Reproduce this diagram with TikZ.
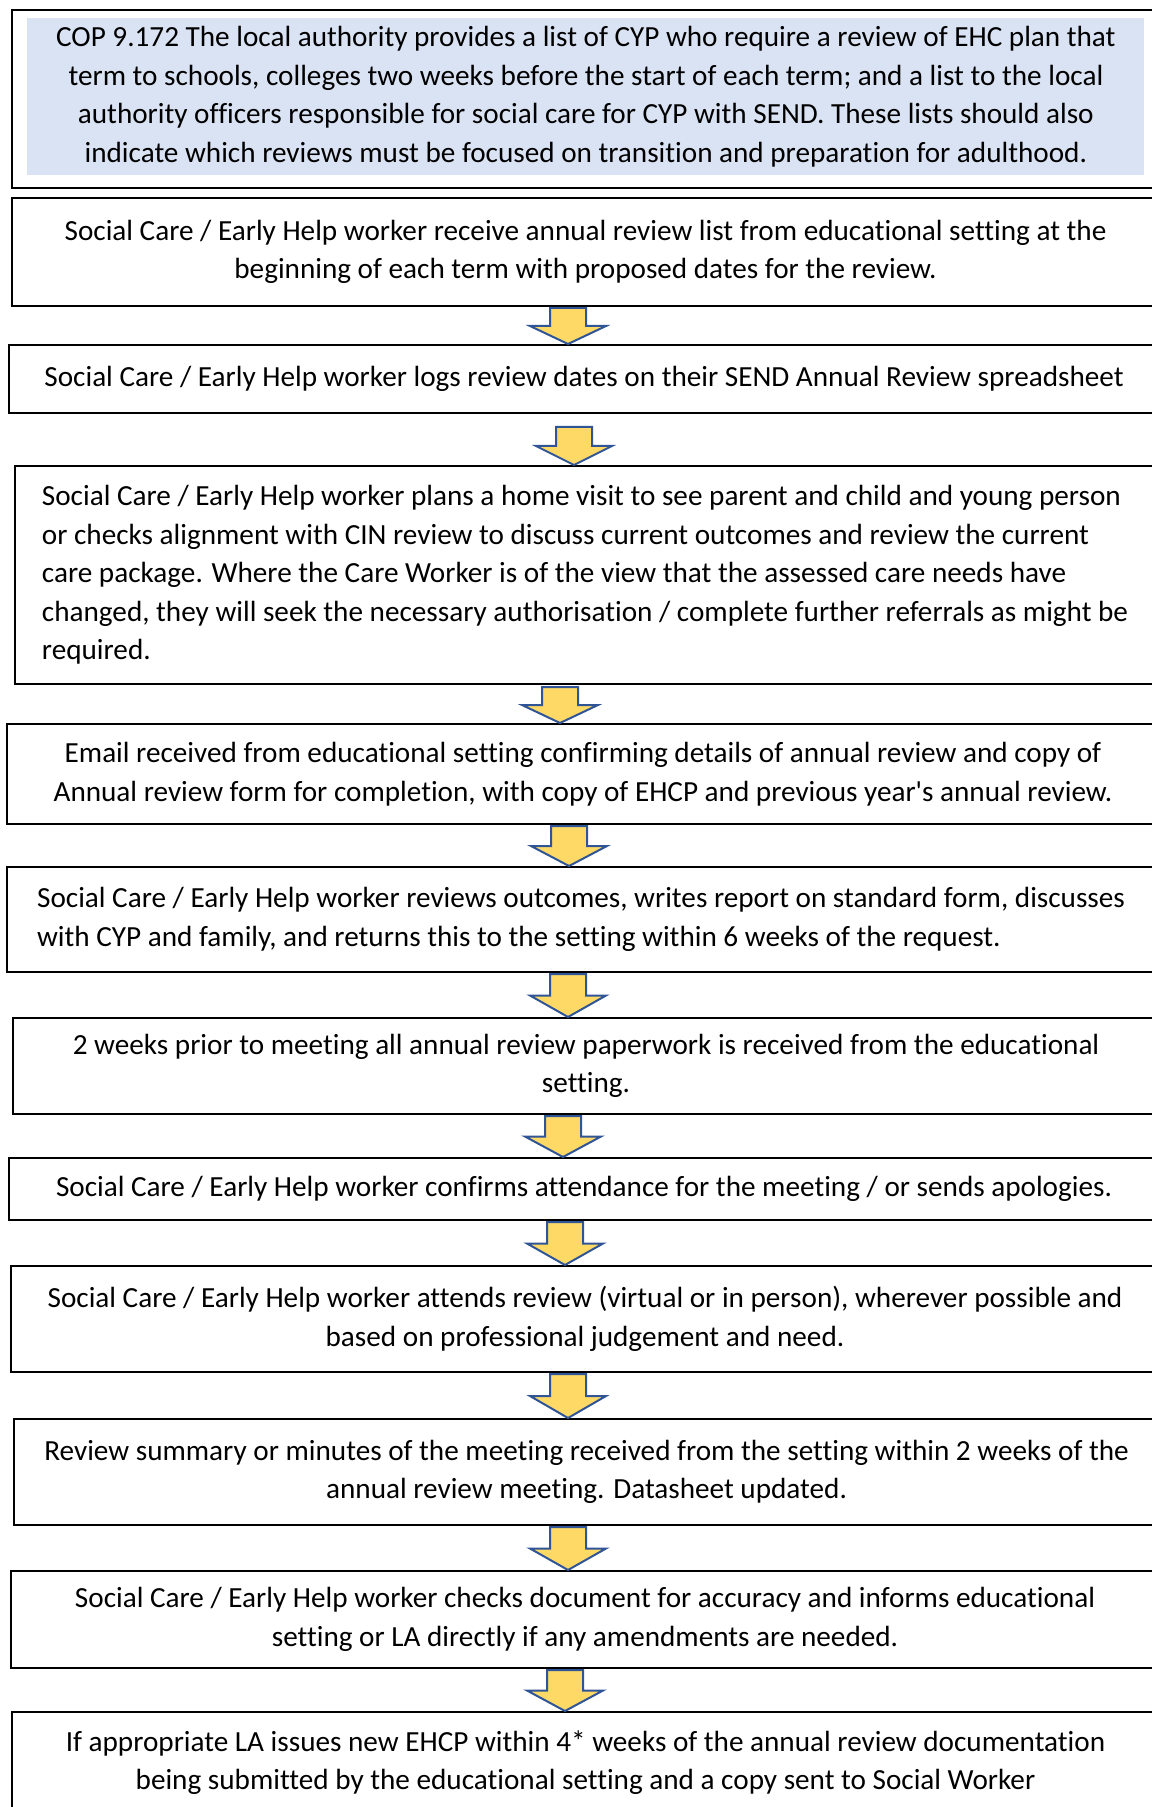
\documentclass[tikz,border=0pt]{standalone}
\usepackage{fontspec}
\setmainfont[Ligatures=NoCommon]{Carlito}
\usetikzlibrary{calc}
\definecolor{panelblue}{HTML}{DAE3F3}
\definecolor{arrowfill}{HTML}{FFD966}
\definecolor{arrowline}{HTML}{2F5597}

\begin{document}
\begin{tikzpicture}[x=0.5pt,y=-0.5pt]
\tikzstyle{every node}+=[font=\fontsize{14.6}{19.3}\selectfont]
\tikzstyle{stepbox}=[draw=black, line width=1pt, anchor=north west, align=center, inner sep=0pt]
\tikzstyle{panel}=[fill=panelblue, anchor=north west, align=center, inner sep=0pt]
\tikzstyle{downarrow}=[draw=arrowline, fill=arrowfill, line width=1pt, line join=miter]
\useasboundingbox (0,0) rectangle (1151,1807);
% code of practice
\node [stepbox, minimum width=573.5pt, minimum height=89pt] (b1) at (11,9) {};
\node [panel, minimum width=558.5pt, minimum height=78.5pt] (cop) at (27,18) {COP 9.172 The local authority provides a list of CYP who require a review of EHC plan that\\term to schools, colleges two weeks before the start of each term; and a list to the local\\authority officers responsible for social care for CYP with SEND. These lists should also\\indicate which reviews must be focused on transition and preparation for adulthood.};
% steps
\node [stepbox, minimum width=573.5pt, minimum height=54pt] (b2) at (11,197) {Social Care / Early Help worker receive annual review list from educational setting at the\\beginning of each term with proposed dates for the review.};
\node [stepbox, minimum width=575pt, minimum height=34pt] (b3) at (8,344) {Social Care / Early Help worker logs review dates on their SEND Annual Review spreadsheet};
\node [stepbox, align=left, minimum width=570pt, minimum height=109pt] (b4) at (14,465) {Social Care / Early Help worker plans a home visit to see parent and child and young person\\or checks alignment with CIN review to discuss current outcomes and review the current\\care package. Where the Care Worker is of the view that the assessed care needs have\\changed, they will seek the necessary authorisation / complete further referrals as might be\\required.};
\node [stepbox, minimum width=576pt, minimum height=50pt] (b5) at (6,723) {Email received from educational setting confirming details of annual review and copy of\\Annual review form for completion, with copy of EHCP and previous year\textquotesingle s annual review.};
\node [stepbox, align=left, minimum width=574pt, minimum height=52.5pt] (b6) at (6,866) {Social Care / Early Help worker reviews outcomes, writes report on standard form, discusses\\with CYP and family, and returns this to the setting within 6 weeks of the request.};
\node [stepbox, minimum width=573pt, minimum height=48pt] (b7) at (12,1017) {2 weeks prior to meeting all annual review paperwork is received from the educational\\setting.};
\node [stepbox, minimum width=575pt, minimum height=31pt] (b8) at (8,1157) {Social Care / Early Help worker confirms attendance for the meeting / or sends apologies.};
\node [stepbox, minimum width=574pt, minimum height=53pt] (b9) at (10,1265) {Social Care / Early Help worker attends review (virtual or in person), wherever possible and\\based on professional judgement and need.};
\node [stepbox, minimum width=572.5pt, minimum height=53pt] (b10) at (13,1418) {Review summary or minutes of the meeting received from the setting within 2 weeks of the\\annual review meeting. Datasheet updated.};
\node [stepbox, minimum width=574pt, minimum height=48.5pt] (b11) at (10,1570) {Social Care / Early Help worker checks document for accuracy and informs educational\\setting or LA directly if any amendments are needed.};
\node [stepbox, minimum width=573.5pt, minimum height=50.5pt] (b12) at (11,1711) {If appropriate LA issues new EHCP within 4* weeks of the annual review documentation\\being submitted by the educational setting and a copy sent to Social Worker};
% block arrows
\foreach \up/\dn/\x/\g in {b2/b3/568/1, b3/b4/574/13, b4/b5/560/2, b5/b6/569/1, b6/b7/568/1, b7/b8/563/1, b8/b9/565/1, b9/b10/568/1, b10/b11/568/1, b11/b12/565/1}{
  \coordinate (top) at ($(\x,0 |- \up.south)+(0,\g)$);
  \coordinate (tip) at (\x,0 |- \dn.north);
  \coordinate (mid) at ($(top)!0.5!(tip)$);
  \draw [downarrow] ([xshift=-9pt]top) -- ([xshift=9pt]top) -- ([xshift=9pt]mid) -- ([xshift=19pt]mid) -- (tip) -- ([xshift=-19pt]mid) -- ([xshift=-9pt]mid) -- cycle;
}
\end{tikzpicture}
\end{document}
